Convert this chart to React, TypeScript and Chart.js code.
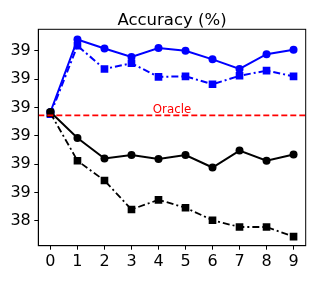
import React, { useEffect, useRef } from "react";
import { Chart, registerables } from "chart.js";

Chart.register(...registerables);

const categories = ["0", "1", "2", "3", "4", "5", "6", "7", "8", "9"];
const blueSolid = [38.692, 38.82, 38.804, 38.789, 38.805, 38.8, 38.785, 38.768, 38.794, 38.802];
const blueDashDot = [38.688, 38.809, 38.768, 38.778, 38.754, 38.755, 38.741, 38.756, 38.765, 38.755];
const blackSolid = [38.692, 38.646, 38.61, 38.616, 38.609, 38.616, 38.594, 38.624, 38.606, 38.617];
const blackDashDot = [38.69, 38.606, 38.571, 38.52, 38.537, 38.523, 38.501, 38.489, 38.489, 38.472];
const oracleValue = 38.686;
const oracleLabel = "Oracle";
const titleText = "Accuracy (%)";
const yTickValues = [38.5, 38.55, 38.6, 38.65, 38.7, 38.75, 38.8];
const yTickLabels = ["38", "39", "39", "39", "39", "39", "39"];

const FONT = "'DejaVu Sans', sans-serif";

export default function App() {
  const ref = useRef<HTMLCanvasElement | null>(null);

  useEffect(() => {
    if (!ref.current) return;
    const xy = (arr: number[]) => arr.map((v, i) => ({ x: i, y: v }));

    const overlay = {
      id: "overlay",
      afterDatasetsDraw(chart: any) {
        const { ctx, chartArea, scales } = chart;
        const yPix = scales.y.getPixelForValue(oracleValue);
        ctx.save();
        ctx.beginPath();
        ctx.rect(chartArea.left, chartArea.top, chartArea.right - chartArea.left, chartArea.bottom - chartArea.top);
        ctx.clip();
        ctx.strokeStyle = "#ff0000";
        ctx.lineWidth = 1.8;
        ctx.setLineDash([6, 3]);
        ctx.beginPath();
        ctx.moveTo(chartArea.left, yPix);
        ctx.lineTo(chartArea.right, yPix);
        ctx.stroke();
        ctx.restore();

        ctx.save();
        ctx.fillStyle = "#ff0000";
        ctx.font = `11.8px ${FONT}`;
        ctx.textAlign = "center";
        ctx.textBaseline = "alphabetic";
        ctx.fillText(oracleLabel, scales.x.getPixelForValue(4.5), yPix - 2.5);
        ctx.restore();
      },
      afterDraw(chart: any) {
        const { ctx, chartArea } = chart;
        ctx.save();
        ctx.strokeStyle = "#000";
        ctx.lineWidth = 1;
        ctx.setLineDash([]);
        ctx.strokeRect(chartArea.left, chartArea.top, chartArea.right - chartArea.left, chartArea.bottom - chartArea.top);
        ctx.fillStyle = "#000";
        ctx.font = `16.5px ${FONT}`;
        ctx.textAlign = "center";
        ctx.textBaseline = "alphabetic";
        ctx.fillText(titleText, (chartArea.left + chartArea.right) / 2, 25);
        ctx.restore();
      },
    };

    const chart = new Chart(ref.current, {
      type: "line",
      data: {
        datasets: [
          {
            data: xy(blackSolid),
            borderColor: "#000000",
            backgroundColor: "#000000",
            borderWidth: 2,
            pointStyle: "circle",
            pointRadius: 4,
            pointBorderWidth: 0,
            tension: 0,
          },
          {
            data: xy(blackDashDot),
            borderColor: "#000000",
            backgroundColor: "#000000",
            borderWidth: 1.8,
            borderDash: [7, 3, 2, 3],
            pointStyle: "rect",
            pointRadius: 5.4,
            pointBorderWidth: 0,
            tension: 0,
          },
          {
            data: xy(blueSolid),
            borderColor: "#0000ff",
            backgroundColor: "#0000ff",
            borderWidth: 2,
            pointStyle: "circle",
            pointRadius: 4,
            pointBorderWidth: 0,
            tension: 0,
          },
          {
            data: xy(blueDashDot),
            borderColor: "#0000ff",
            backgroundColor: "#0000ff",
            borderWidth: 2,
            borderDash: [7, 3, 2, 3],
            pointStyle: "rect",
            pointRadius: 5.4,
            pointBorderWidth: 0,
            tension: 0,
          },
        ],
      },
      options: {
        animation: false,
        responsive: false,
        layout: { padding: { left: 0, right: 10.3, top: 29.3, bottom: 0 } },
        plugins: {
          legend: { display: false },
          tooltip: { enabled: false },
          title: { display: false },
        },
        scales: {
          x: {
            type: "linear",
            min: -0.45,
            max: 9.45,
            afterBuildTicks: (scale: any) => {
              scale.ticks = categories.map((_, i) => ({ value: i }));
            },
            afterFit: (scale: any) => {
              scale.height = 35.3;
            },
            ticks: {
              color: "#000",
              font: { family: FONT, size: 16 },
              padding: 3,
              autoSkip: false,
              maxRotation: 0,
              callback: (v: any) => categories[Math.round(Number(v))] ?? "",
            },
            grid: { drawOnChartArea: false, drawTicks: true, tickLength: 4, color: "#000", tickWidth: 1 },
            border: { display: true, color: "#000", width: 1 },
          },
          y: {
            type: "linear",
            min: 38.456,
            max: 38.838,
            afterBuildTicks: (scale: any) => {
              scale.ticks = yTickValues.map((v) => ({ value: v }));
            },
            afterFit: (scale: any) => {
              scale.width = 38.3;
            },
            ticks: {
              color: "#000",
              font: { family: FONT, size: 16 },
              padding: 3.5,
              callback: (v: any) => {
                const idx = yTickValues.findIndex((t) => Math.abs(t - Number(v)) < 1e-6);
                return idx >= 0 ? yTickLabels[idx] : "";
              },
            },
            grid: { drawOnChartArea: false, drawTicks: true, tickLength: 4, color: "#000", tickWidth: 1 },
            border: { display: true, color: "#000", width: 1 },
          },
        },
      },
      plugins: [overlay],
    } as any);

    return () => chart.destroy();
  }, []);

  return (
    <div style={{ position: "fixed", left: 0, top: 0, width: 316, height: 281, background: "#fff" }}>
      <canvas ref={ref} width={316} height={281} style={{ width: 316, height: 281, display: "block" }} />
    </div>
  );
}
